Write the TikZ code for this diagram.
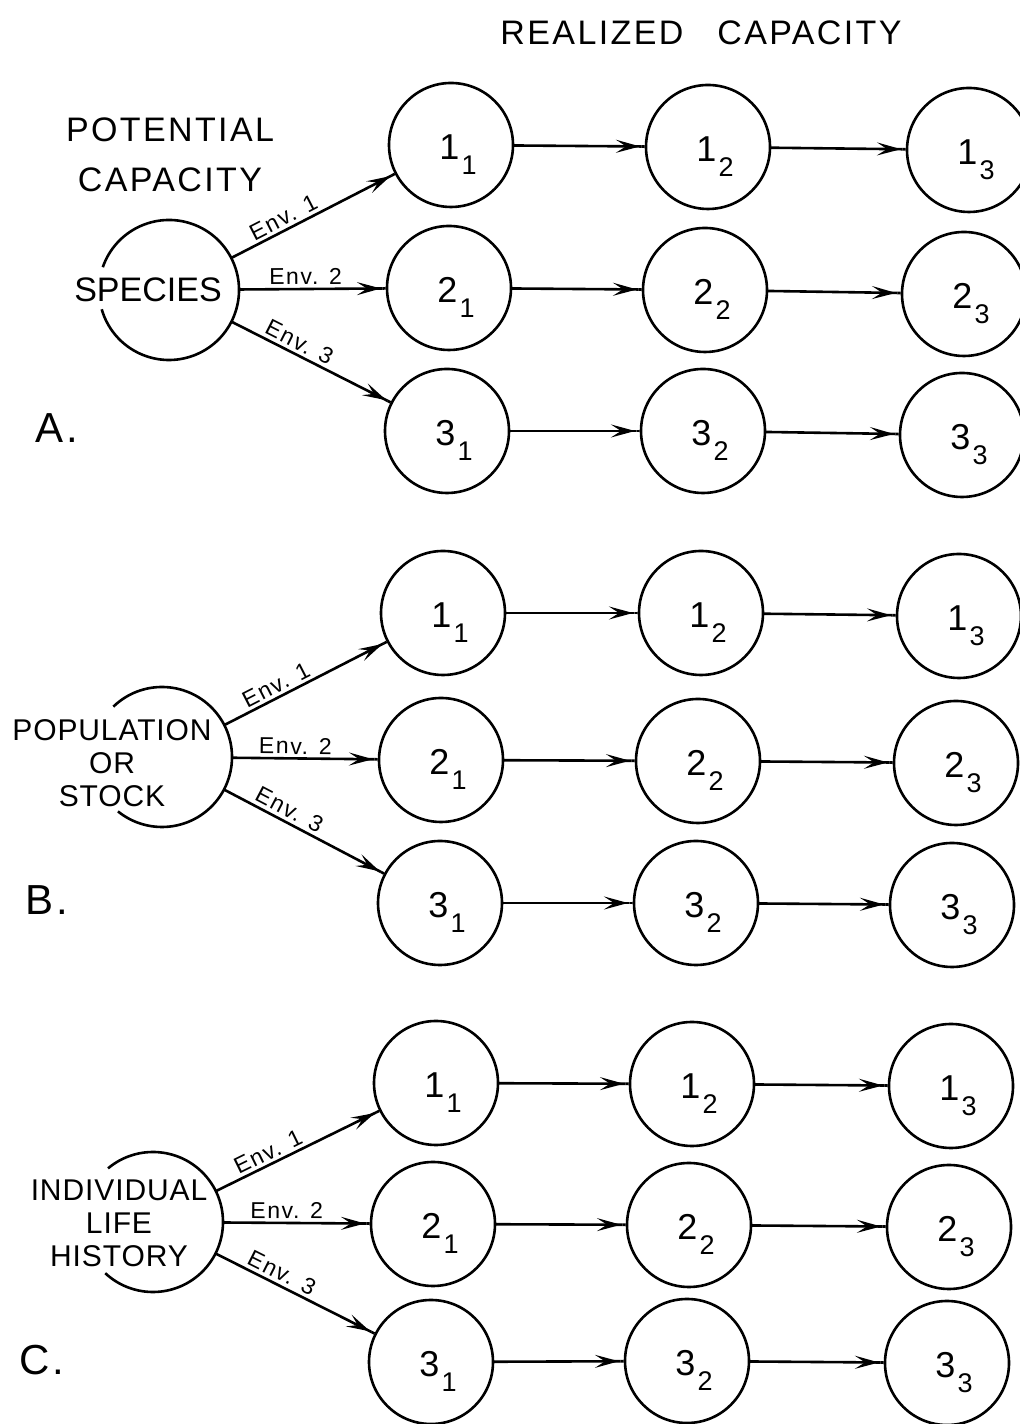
\documentclass[tikz,border=0pt]{standalone}
\usepackage{fontspec}
\setmainfont{Liberation Sans}[LetterSpace=7]
\usetikzlibrary{arrows.meta}
\newcommand\headfont{\fontsize{17bp}{25bp}\selectfont}
\newcommand\srcfont{\fontsize{15bp}{16.5bp}\selectfont\addfontfeature{LetterSpace=3}}
\newcommand\envfont{\fontsize{11.5bp}{12bp}\selectfont}
\newcommand\panelfont{\fontsize{21bp}{21bp}\selectfont}
\newcommand\numfont{\fontsize{18bp}{18bp}\selectfont}
\newcommand\rc[2]{\kern7bp\rule{0pt}{22bp}#1\kern1bp\raisebox{-7.5bp}{\fontsize{13.5bp}{13.5bp}\selectfont #2}}
\begin{document}
\begin{tikzpicture}[>={Stealth[length=12bp,width=6.5bp,inset=5bp]Rectangle[length=3bp,width=0pt 1]},line join=bevel,line width=1.3bp,
  stage/.style={circle,draw,minimum size=62bp,inner sep=0pt,outer sep=0pt,font=\numfont},
  source/.style={circle,draw=none,minimum size=70bp,inner sep=0pt,outer sep=0pt},
  env/.style={above,sloped,font=\envfont,inner sep=1.5bp}]
\useasboundingbox (0bp,0bp) rectangle (510bp,712bp);
%% A
\node (head_real) at (350.5bp,695.5bp) [font=\headfont] {REALIZED\quad CAPACITY};
\node (head_pot) at (85bp,634.5bp) [font=\headfont,align=center] {POTENTIAL\\CAPACITY};
\node (species) at (84.5bp,567bp) [source] {};
\node (species_txt) at (74bp,567bp) [font=\headfont\addfontfeature{LetterSpace=0}] {SPECIES};
\node (lab_a) at (28.5bp,498bp) [font=\panelfont] {A.};
  \node (a11) at (225.5bp,639.5bp) [stage] {\rc{1}{1}};
  \node (a12) at (354bp,638.5bp) [stage] {\rc{1}{2}};
  \node (a13) at (484.5bp,637bp) [stage] {\rc{1}{3}};
  \node (a21) at (224.5bp,568bp) [stage] {\rc{2}{1}};
  \node (a22) at (352.5bp,567bp) [stage] {\rc{2}{2}};
  \node (a23) at (482bp,565bp) [stage] {\rc{2}{3}};
  \node (a31) at (223.5bp,496.5bp) [stage] {\rc{3}{1}};
  \node (a32) at (351.5bp,496.5bp) [stage] {\rc{3}{2}};
  \node (a33) at (481bp,494.5bp) [stage] {\rc{3}{3}};
  \draw (species.161) arc[start angle=161,end angle=-164,radius=35bp];
  \draw [black,->] (species) -- (a11) node[env,pos=0.35] {Env. 1};
  \draw [black,->] (species) -- (a21) node[env,pos=0.45] {Env. 2};
  \draw [black,->] (species) -- (a31) node[env,pos=0.39] {Env. 3};
  \draw [black,->] (a11) -- (a12);
  \draw [black,->] (a12) -- (a13);
  \draw [black,->] (a21) -- (a22);
  \draw [black,->] (a22) -- (a23);
  \draw [black,->] (a31) -- (a32);
  \draw [black,->] (a32) -- (a33);
%% B
\node (population) at (81bp,333.5bp) [source] {};
\node (population_txt) at (56bp,330.5bp) [font=\srcfont,align=center] {POPULATION\\OR\\STOCK};
\node (lab_b) at (23.5bp,262bp) [font=\panelfont] {B.};
  \node (b11) at (221.5bp,405.5bp) [stage] {\rc{1}{1}};
  \node (b12) at (350.5bp,405.5bp) [stage] {\rc{1}{2}};
  \node (b13) at (479.5bp,404bp) [stage] {\rc{1}{3}};
  \node (b21) at (220.5bp,332bp) [stage] {\rc{2}{1}};
  \node (b22) at (349bp,331.5bp) [stage] {\rc{2}{2}};
  \node (b23) at (478bp,330.5bp) [stage] {\rc{2}{3}};
  \node (b31) at (220bp,260.5bp) [stage] {\rc{3}{1}};
  \node (b32) at (348bp,260.5bp) [stage] {\rc{3}{2}};
  \node (b33) at (476bp,259.5bp) [stage] {\rc{3}{3}};
  \draw (population.134) arc[start angle=134,end angle=-129,radius=35bp];
  \draw [black,->] (population) -- (b11) node[env,pos=0.35] {Env. 1};
  \draw [black,->] (population) -- (b21) node[env,pos=0.43] {Env. 2};
  \draw [black,->] (population) -- (b31) node[env,pos=0.37] {Env. 3};
  \draw [black,->] (b11) -- (b12);
  \draw [black,->] (b12) -- (b13);
  \draw [black,->] (b21) -- (b22);
  \draw [black,->] (b22) -- (b23);
  \draw [black,->] (b31) -- (b32);
  \draw [black,->] (b32) -- (b33);
%% C
\node (individual) at (76.5bp,101bp) [source] {};
\node (individual_txt) at (59.5bp,100.5bp) [font=\srcfont,align=center] {INDIVIDUAL\\LIFE\\HISTORY};
\node (lab_c) at (21bp,32bp) [font=\panelfont] {C.};
  \node (c11) at (218bp,170.5bp) [stage] {\rc{1}{1}};
  \node (c12) at (346bp,170bp) [stage] {\rc{1}{2}};
  \node (c13) at (475.5bp,169bp) [stage] {\rc{1}{3}};
  \node (c21) at (216.5bp,100bp) [stage] {\rc{2}{1}};
  \node (c22) at (344.5bp,99.5bp) [stage] {\rc{2}{2}};
  \node (c23) at (474.5bp,98.5bp) [stage] {\rc{2}{3}};
  \node (c31) at (215.5bp,31bp) [stage] {\rc{3}{1}};
  \node (c32) at (343.5bp,31.5bp) [stage] {\rc{3}{2}};
  \node (c33) at (473.5bp,30.5bp) [stage] {\rc{3}{3}};
  \draw (individual.130) arc[start angle=130,end angle=-133,radius=35bp];
  \draw [black,->] (individual) -- (c11) node[env,pos=0.35] {Env. 1};
  \draw [black,->] (individual) -- (c21) node[env,pos=0.43] {Env. 2};
  \draw [black,->] (individual) -- (c31) node[env,pos=0.38] {Env. 3};
  \draw [black,->] (c11) -- (c12);
  \draw [black,->] (c12) -- (c13);
  \draw [black,->] (c21) -- (c22);
  \draw [black,->] (c22) -- (c23);
  \draw [black,->] (c31) -- (c32);
  \draw [black,->] (c32) -- (c33);
%
\end{tikzpicture}
\end{document}
